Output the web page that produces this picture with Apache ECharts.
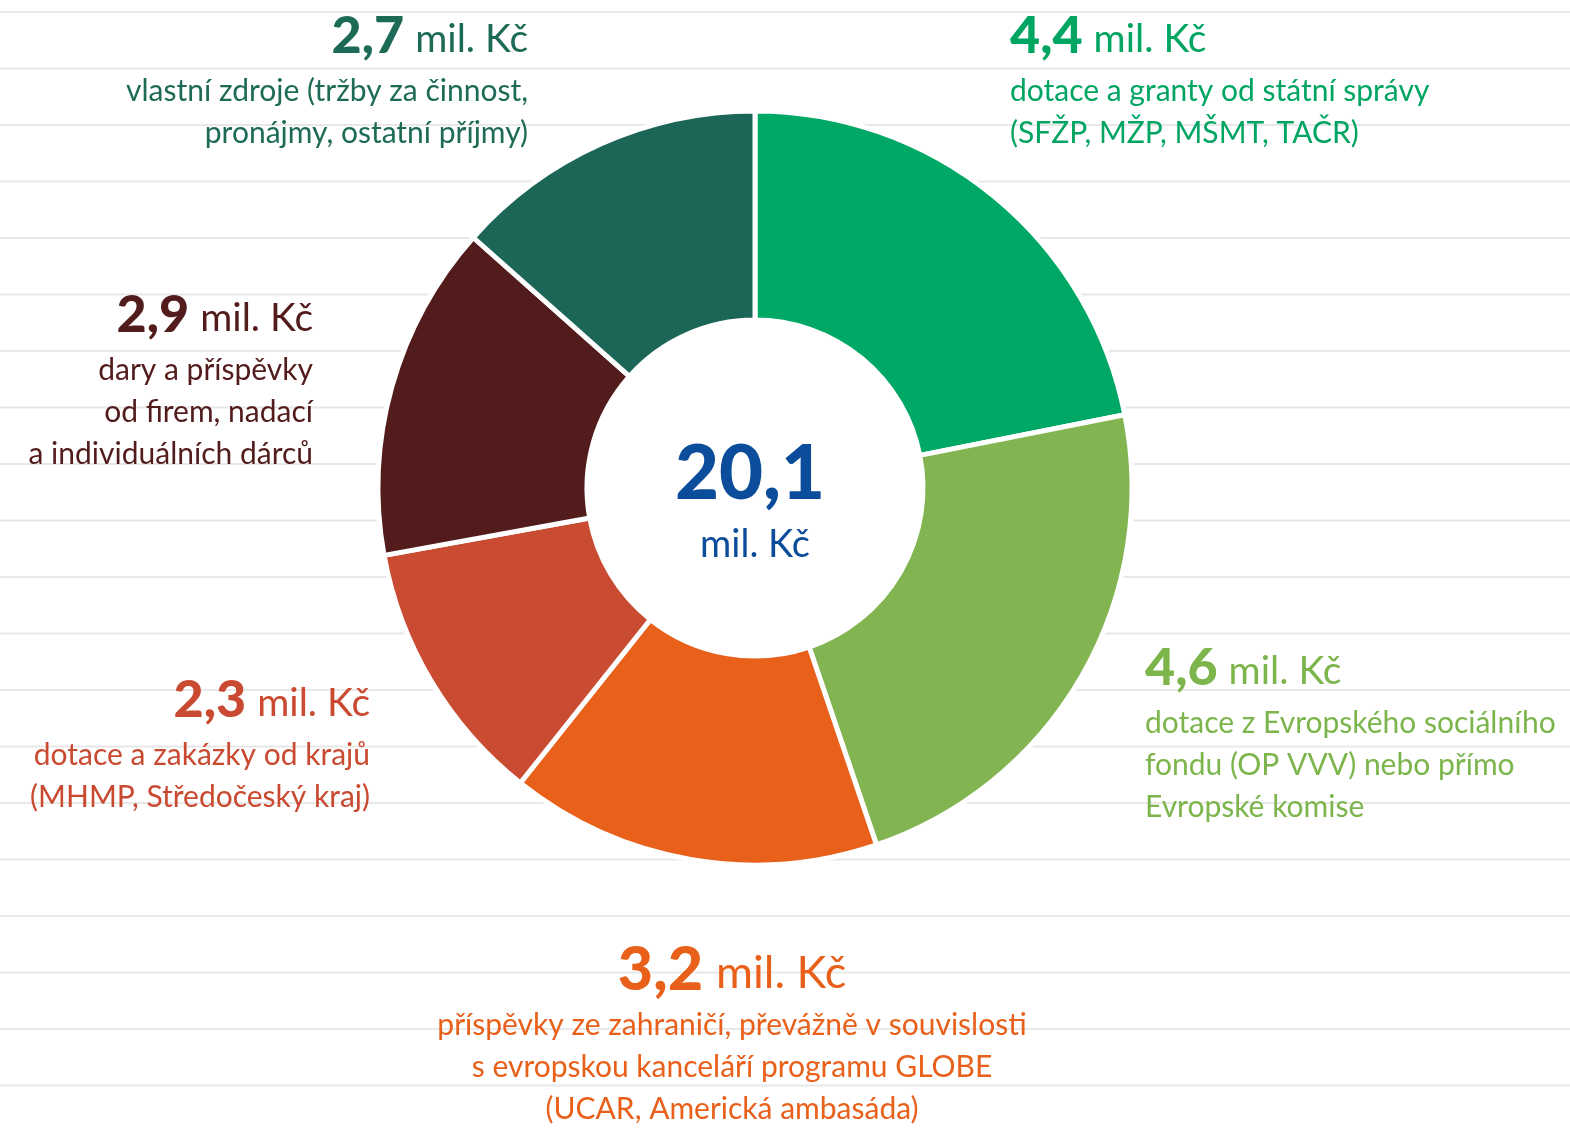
<!DOCTYPE html>
<html><head><meta charset="utf-8">
<script src="https://cdn.jsdelivr.net/npm/echarts@6/dist/echarts.min.js"></script>
<style>html,body{margin:0;padding:0;background:#fff}#c{width:1570px;height:1128px}</style>
</head><body><div id="c"></div>
<script>
const categories = ['Státní správa', 'Evropský sociální fond / Evropská komise', 'Zahraničí', 'Kraje', 'Dary a příspěvky', 'Vlastní zdroje'];
const values = [4.4, 4.6, 3.2, 2.3, 2.9, 2.7];
const unit = 'mil. Kč';
const descriptions = [
  ['dotace a granty od státní správy', '(SFŽP, MŽP, MŠMT, TAČR)'],
  ['dotace z Evropského sociálního', 'fondu (OP VVV) nebo přímo', 'Evropské komise'],
  ['příspěvky ze zahraničí, převážně v souvislosti', 's evropskou kanceláří programu GLOBE', '(UCAR, Americká ambasáda)'],
  ['dotace a zakázky od krajů', '(MHMP, Středočeský kraj)'],
  ['dary a příspěvky', 'od firem, nadací', 'a individuálních dárců'],
  ['vlastní zdroje (tržby za činnost,', 'pronájmy, ostatní příjmy)']
];
const sliceColors = ['#00a865', '#82b552', '#e8601a', '#c94b32', '#521c1c', '#1b6656'];
const textColors  = ['#00a562', '#7cb54b', '#e8601a', '#c94a30', '#521c1c', '#1d6a56'];

const FONT = 'Lato, "Noto Sans", sans-serif';
const LABEL_POS = [[1010, 2, 'left'], [1145, 634, 'left'], [732, 936, 'center'], [370, 666, 'right'], [313, 281, 'right'], [528, 2, 'right']];
const HEAD_SCALE = [1, 1, 1.17, 1, 1, 1];
const fmt = v => v.toFixed(1).replace('.', ',');
const total = values.reduce((a, b) => a + b, 0);

const chart = echarts.init(document.getElementById('c'), null, {renderer: 'canvas'});

const bgLines = [];
for (let k = 0; k < 20; k++) {
  const y = 12 + 56.5 * k;
  bgLines.push({type: 'line', silent: true, z: 0, shape: {x1: 0, y1: y, x2: 1570, y2: y}, style: {stroke: '#e8e8e8', lineWidth: 2}});
}

const data = categories.map((name, i) => {
  const al = LABEL_POS[i][2];
  const s = HEAD_SCALE[i];
  return {
    name, value: values[i],
    itemStyle: {color: sliceColors[i]},
    label: {
      color: textColors[i],
      align: al,
      rich: {
        n: {fontSize: Math.round(52 * s), fontWeight: 900, lineHeight: 68, fontFamily: FONT, align: al, color: textColors[i]},
        m: {fontSize: Math.round(38.5 * s), lineHeight: 68, fontFamily: FONT, align: al, color: textColors[i], padding: [Math.round(6 * s), 0, 0, Math.round(11 * s)]},
        d: {fontSize: 30, lineHeight: 42, fontFamily: FONT, align: al, color: textColors[i]}
      }
    }
  };
});

chart.setOption({
  animation: false,
  backgroundColor: '#ffffff',
  graphic: [
    ...bgLines,
    {type: 'circle', silent: true, z: 1, shape: {cx: 755, cy: 488, r: 170}, style: {fill: '#ffffff'}},
    {type: 'text', z: 5, x: 750, y: 474, style: {text: fmt(total), font: '900 76px ' + FONT, fill: '#0b4d9b', align: 'center', verticalAlign: 'middle'}},
    {type: 'text', z: 5, x: 755, y: 545, style: {text: unit, font: '38px ' + FONT, fill: '#0b4d9b', align: 'center', verticalAlign: 'middle'}}
  ],
  series: [{
    type: 'pie',
    center: [755, 488],
    radius: [168, 377],
    startAngle: 90,
    clockwise: true,
    avoidLabelOverlap: false,
    itemStyle: {borderColor: '#ffffff', borderWidth: 5},
    label: {
      show: true,
      position: 'outside',
      formatter: p => '{n|' + fmt(p.value) + '}{m|' + unit + '}\n' + descriptions[p.dataIndex].map(s => '{d|' + s + '}').join('\n')
    },
    labelLine: {show: false},
    labelLayout: p => {
      const q = LABEL_POS[p.dataIndex];
      return {x: q[0], y: q[1], align: q[2], verticalAlign: 'top'};
    },
    emphasis: {disabled: true},
    data
  }]
});
</script></body></html>
